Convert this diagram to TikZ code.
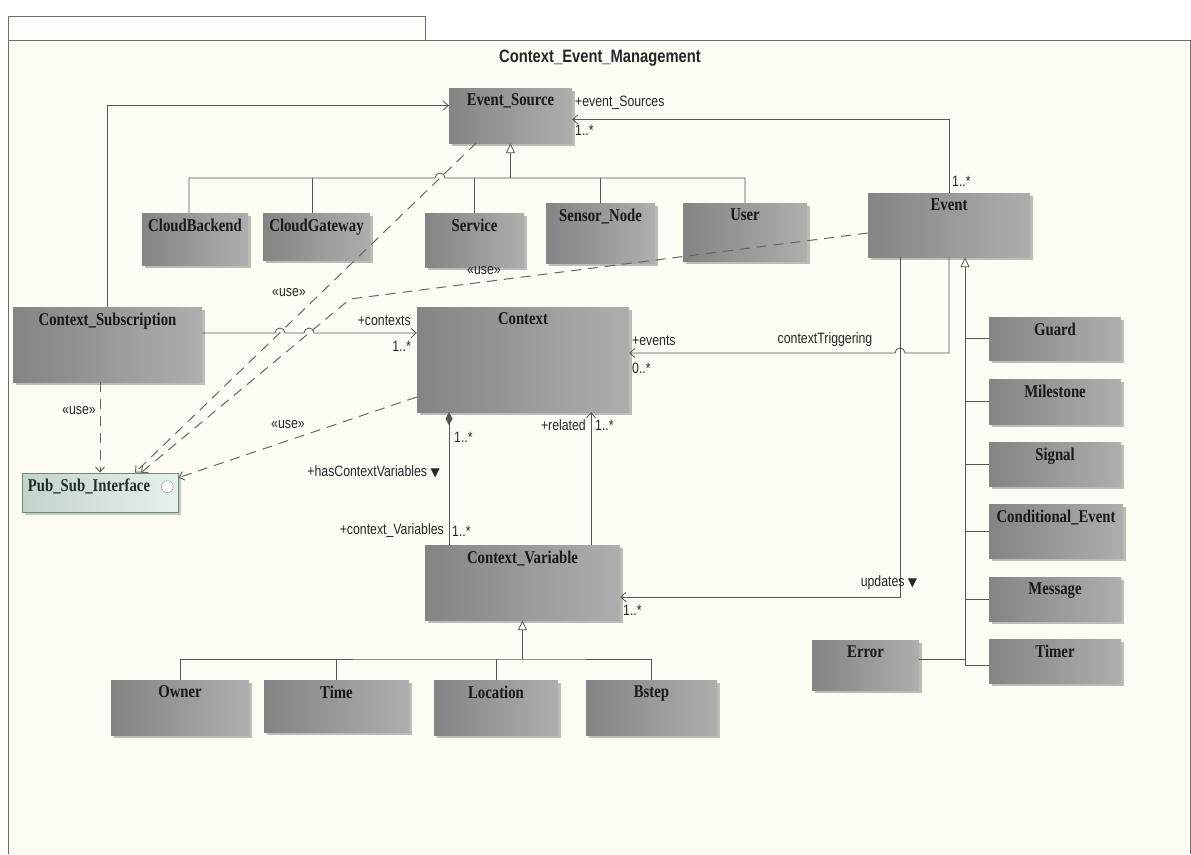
\documentclass[tikz,border=0pt]{standalone}
\usepackage{fontspec}
\usetikzlibrary{arrows.meta, shadows}
\newfontfamily\clsfont[FakeStretch=0.82]{Liberation Serif}
\newfontfamily\lblfont[FakeStretch=0.82]{Liberation Sans}
\newfontfamily\symfont{DejaVu Sans}

\definecolor{paper}{HTML}{FCFCF4}
\definecolor{framegray}{HTML}{6E6E6E}
\definecolor{clsdark}{HTML}{848484}
\definecolor{clslight}{HTML}{AEAEAE}
\definecolor{linegray}{HTML}{555555}
\definecolor{dashgray}{HTML}{666666}
\definecolor{ifcdark}{HTML}{C3D3CA}
\definecolor{ifclight}{HTML}{E8F0EC}
\definecolor{ifcedge}{HTML}{6F8A7B}
\definecolor{ifctext}{HTML}{1F2F25}

\tikzset{
  cls/.style 2 args={left color=clsdark, right color=clslight, minimum width=#1, minimum height=#2, inner sep=0pt,
    drop shadow={shadow xshift=3pt, shadow yshift=-3pt, fill=black, opacity=0.25}},
  ifc/.style 2 args={draw=ifcedge, line width=0.6pt, left color=ifcdark, right color=ifclight, minimum width=#1, minimum height=#2, inner sep=0pt,
    drop shadow={shadow xshift=3pt, shadow yshift=-3pt, fill=black, opacity=0.2}},
  clsname/.style={anchor=north, inner sep=6pt, font=\clsfont\bfseries\fontsize{18}{20}\selectfont, text=black!90},
  lbl/.style={inner sep=1pt, font=\lblfont\fontsize{15}{17}\selectfont, text=black!85},
  conn/.style={draw=linegray, line width=0.8pt},
  assoc/.style={conn, -{Straight Barb[length=5pt, width=9pt]}},
  gen/.style={conn, -{Triangle[open, length=10pt, width=9pt, fill=white]}},
  comp/.style={conn, -{Diamond[length=13pt, width=7pt, fill=linegray]}},
  usedep/.style={conn, draw=dashgray, line width=1pt, dash pattern=on 10pt off 7pt, -{Straight Barb[length=5pt, width=9pt]}},
}

\begin{document}
\begin{tikzpicture}[x=1pt, y=-1pt]
\useasboundingbox (0,0) rectangle (1191,854);
% package frame
\fill[paper] (8,40) rectangle (1190,854);
\fill[paper!50!white] (8,16) rectangle (425,40);
\draw[framegray, line width=0.9pt] (8,854) -- (8,16) -- (425,16) -- (425,40);
\draw[framegray, line width=0.9pt] (8,40) -- (1190,40) -- (1190,854);
\node[lbl, font=\lblfont\bfseries\fontsize{18}{20}\selectfont] (title) at (600,58) {Context\_Event\_Management};

% classes
\node[cls={123pt}{55pt}, label={[clsname]north:Event\_Source}] (evsrc) at (510.5,115.5) {};
\node[cls={106pt}{52pt}, label={[clsname]north:CloudBackend}] (cbk) at (195,239) {};
\node[cls={107pt}{47pt}, label={[clsname]north:CloudGateway}] (cgw) at (316.5,236.5) {};
\node[cls={99pt}{54pt}, label={[clsname]north:Service}] (svc) at (474.5,240) {};
\node[cls={109pt}{60pt}, label={[clsname]north:Sensor\_Node}] (snode) at (600.5,233) {};
\node[cls={124pt}{58pt}, label={[clsname]north:User}] (usr) at (745,232) {};
\node[cls={162pt}{64pt}, label={[clsname]north:Event}] (ev) at (949,225) {};
\node[cls={189pt}{75pt}, label={[clsname]north:Context\_Subscription}] (csub) at (107.5,344.5) {};
\node[ifc={156pt}{39pt}, label={[clsname, anchor=north west, text=ifctext]north west:Pub\_Sub\_Interface}] (psi) at (100,492.5) {};
\draw[ifcedge, fill=white] ([xshift=-11pt, yshift=-14pt]psi.north east) circle[radius=6pt];
\node[cls={212pt}{105pt}, label={[clsname]north:Context}] (ctx) at (523,359.5) {};
\node[cls={195pt}{75pt}, label={[clsname]north:Context\_Variable}] (cv) at (522.5,582.5) {};
\node[cls={138pt}{55pt}, label={[clsname]north:Owner}] (own) at (180,707.5) {};
\node[cls={145pt}{52pt}, label={[clsname]north:Time}] (tim) at (336.5,706) {};
\node[cls={124pt}{55pt}, label={[clsname]north:Location}] (loc) at (496,707.5) {};
\node[cls={131pt}{55pt}, label={[clsname]north:Bstep}] (bst) at (651.5,707.5) {};
\node[cls={132pt}{43pt}, label={[clsname]north:Guard}] (grd) at (1055,338.5) {};
\node[cls={132pt}{45pt}, label={[clsname]north:Milestone}] (mst) at (1055,401.5) {};
\node[cls={132pt}{44pt}, label={[clsname]north:Signal}] (sig) at (1055,464) {};
\node[cls={134pt}{54pt}, label={[clsname]north:Conditional\_Event}] (cev) at (1056,531) {};
\node[cls={132pt}{44pt}, label={[clsname]north:Message}] (msg) at (1055,599) {};
\node[cls={132pt}{44pt}, label={[clsname]north:Timer}] (tmr) at (1055,661) {};
\node[cls={107pt}{50pt}, label={[clsname]north:Error}] (err) at (865.5,665) {};

% Event_Source hierarchy
\coordinate (esbus) at (510.5,178);
\draw[conn] ([xshift=-6pt]cbk.north) |- (435,178) arc[start angle=180, end angle=0, radius=5pt] -- (esbus) -| (usr.north);
\draw[conn] ([xshift=-4.5pt]cgw.north) -- ([xshift=-4.5pt]cgw.north |- esbus);
\draw[conn] (svc.north) -- (svc.north |- esbus);
\draw[conn] (snode.north) -- (snode.north |- esbus);
\draw[gen] (esbus) -- (evsrc.south);

% associations to Event_Source
\draw[assoc] (ev.north) |- ([yshift=-4pt]evsrc.east);
\node[lbl, anchor=west] (esrole) at (574,103) {+event\_Sources};
\node[lbl, anchor=west] (esmult) at (574,130) {1..*};
\node[lbl, anchor=west] (evmult) at (951,181) {1..*};
\draw[assoc] (csub.north) |- ([yshift=10pt]evsrc.west);

% Context_Subscription -> Context
\draw[assoc] ([yshift=11.5pt]csub.east) -- (275,333) arc[start angle=180, end angle=0, radius=5pt]
  -- (304,333) arc[start angle=180, end angle=0, radius=5pt] -- ([yshift=26.5pt]ctx.west);
\node[lbl, anchor=east] (ctxrole) at (412,321) {+contexts};
\node[lbl, anchor=east] (ctxmult) at (412,346) {1..*};

% Event -> Context
\draw[assoc] (ev.south) |- (905,353) arc[start angle=0, end angle=180, radius=5pt] -- ([yshift=6.5pt]ctx.east);
\node[lbl, anchor=west] (evrole) at (631,341) {+events};
\node[lbl, anchor=west] (evmult2) at (631,368) {0..*};
\node[lbl] (trig) at (825,340) {contextTriggering};

% Event -> Context_Variable
\draw[assoc] ([xshift=-49pt]ev.south) |- ([yshift=-14.5pt]cv.east);
\node[lbl, anchor=west] (upmult) at (622,610) {1..*};
\node[lbl] (upname) at (889,583) {updates {\symfont\fontsize{12}{13}\selectfont ▼}};

% Context -- Context_Variable
\draw[comp] ([xshift=-73.5pt]cv.north) -- ([xshift=-74pt]ctx.south);
\node[lbl, anchor=west] (cvmult1) at (453,437) {1..*};
\node[lbl, anchor=east] (cvrole) at (445,531) {+context\_Variables};
\node[lbl, anchor=west] (cvmult2) at (451,531) {1..*};
\node[lbl, anchor=east] (hascv) at (441,472) {+hasContextVariables {\symfont\fontsize{12}{13}\selectfont ▼}};
\draw[assoc] ([xshift=68.5pt]cv.north) -- ([xshift=68pt]ctx.south);
\node[lbl, anchor=east] (relrole) at (587,425) {+related};
\node[lbl, anchor=west] (relmult) at (594,425) {1..*};

% Context_Variable hierarchy
\coordinate (cvbus) at (522.5,659);
\draw[conn] (own.north) |- (cvbus) -| (bst.north);
\draw[conn] (tim.north) -- (tim.north |- cvbus);
\draw[conn] (loc.north) -- (loc.north |- cvbus);
\draw[gen] (cvbus) -- (cv.south);

% Event hierarchy
\coordinate (evroot) at (965,665);
\coordinate (errjoin) at (965,659);
\draw[conn] (tmr.west |- evroot) -- (evroot);
\draw[conn] (grd.west) -- (grd.west -| evroot);
\draw[conn] (mst.west) -- (mst.west -| evroot);
\draw[conn] (sig.west) -- (sig.west -| evroot);
\draw[conn] (cev.west) -- (cev.west -| evroot);
\draw[conn] (msg.west) -- (msg.west -| evroot);
\draw[conn] (errjoin) -- (errjoin -| err.east);
\draw[gen] (evroot) -- (evroot |- ev.south);

% use dependencies
\coordinate (usebend) at (350,299);
\draw[usedep] ([xshift=-7.5pt]csub.south) -- (psi.north);
\node[lbl] (use1) at (79,411) {«use»};
\draw[usedep] ([xshift=-34.5pt]evsrc.south) -- ([xshift=35pt]psi.north);
\node[lbl] (use2) at (289,293) {«use»};
\draw[usedep] ([yshift=-8pt]ev.west) -- (usebend) -- ([xshift=41pt]psi.north);
\node[lbl] (use3) at (484,271) {«use»};
\draw[usedep] ([yshift=-37.5pt]ctx.west) -- ([yshift=-5pt]psi.north east);
\node[lbl] (use4) at (288,425) {«use»};
\end{tikzpicture}
\end{document}
